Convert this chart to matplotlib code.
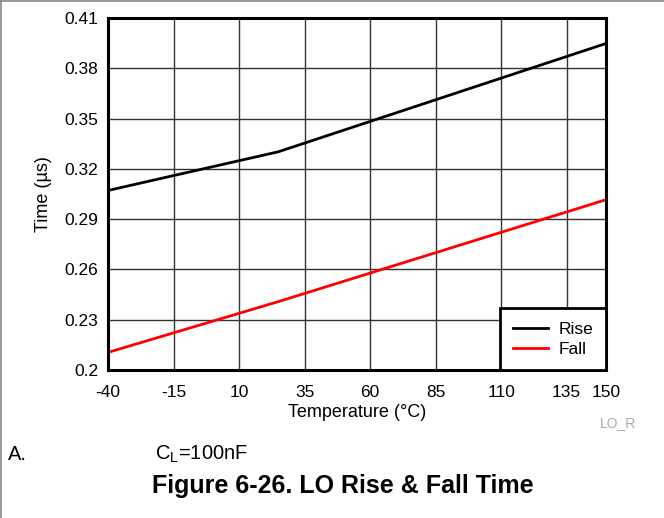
import matplotlib
matplotlib.use('Agg')
from matplotlib import pyplot as plt
from matplotlib.lines import Line2D

plt.rcParams['font.family'] = ['Liberation Sans', 'DejaVu Sans']
plt.rcParams['mathtext.fontset'] = 'custom'
plt.rcParams['mathtext.rm'] = 'Liberation Sans'
plt.rcParams['axes.unicode_minus'] = False

# data
temp = [-40, 25, 150]
rise = [0.3071, 0.3302, 0.3948]
fall = [0.2105, 0.2408, 0.3016]

x_ticks = [-40, -15, 10, 35, 60, 85, 110, 135, 150]
y_ticks = [0.2, 0.23, 0.26, 0.29, 0.32, 0.35, 0.38, 0.41]
y_labels = ['0.2', '0.23', '0.26', '0.29', '0.32', '0.35', '0.38', '0.41']

fig = plt.figure(figsize=(6.64, 5.18), dpi=100)
ax = fig.add_axes([108 / 664, 1 - 370 / 518, 498 / 664, 352 / 518])

ax.plot(temp, rise, color='black', lw=2, label='Rise')
ax.plot(temp, fall, color='red', lw=2, label='Fall')

ax.set_xlim(-40, 150)
ax.set_ylim(0.2, 0.41)
ax.set_xticks(x_ticks)
ax.set_yticks(y_ticks)
ax.set_yticklabels(y_labels)
ax.tick_params(length=0, labelsize=12.5)
ax.tick_params(axis='x', pad=11)
ax.tick_params(axis='y', pad=7)
ax.grid(True, color='#333333', lw=1)
ax.set_axisbelow(True)
for s in ax.spines.values():
    s.set_linewidth(2.2)

ax.set_xlabel('Temperature (°C)', fontsize=13, labelpad=3)
ax.set_ylabel('Time (µs)', fontsize=13, labelpad=9)

leg = ax.legend(loc='lower right', fontsize=12.5, frameon=True, fancybox=False,
                borderaxespad=0, handlelength=2.0, handletextpad=0.6,
                labelspacing=0.3, borderpad=0.75)
leg.get_frame().set_edgecolor('black')
leg.get_frame().set_linewidth(2)
leg.get_frame().set_alpha(1)

# page frame, top and left only
fig.add_artist(Line2D([0, 1], [0.999, 0.999], color='#888888', lw=1.2))
fig.add_artist(Line2D([0.001, 0.001], [0, 1], color='#888888', lw=1.2))

fig.text(600 / 664, 1 - 427 / 518, 'LO_R', fontsize=10, color='#aaaaaa',
         va='baseline')
fig.text(8 / 664, 1 - 460 / 518, 'A.', fontsize=14.5, va='baseline')
fig.text(155 / 664, 1 - 460 / 518, r'C$_\mathrm{L}$=100nF', fontsize=14.5,
         va='baseline')
fig.text(343 / 664, 1 - 493 / 518, 'Figure 6-26. LO Rise & Fall Time',
         fontsize=18, fontweight='bold', ha='center', va='baseline')

fig.savefig('out.png', dpi=100)
